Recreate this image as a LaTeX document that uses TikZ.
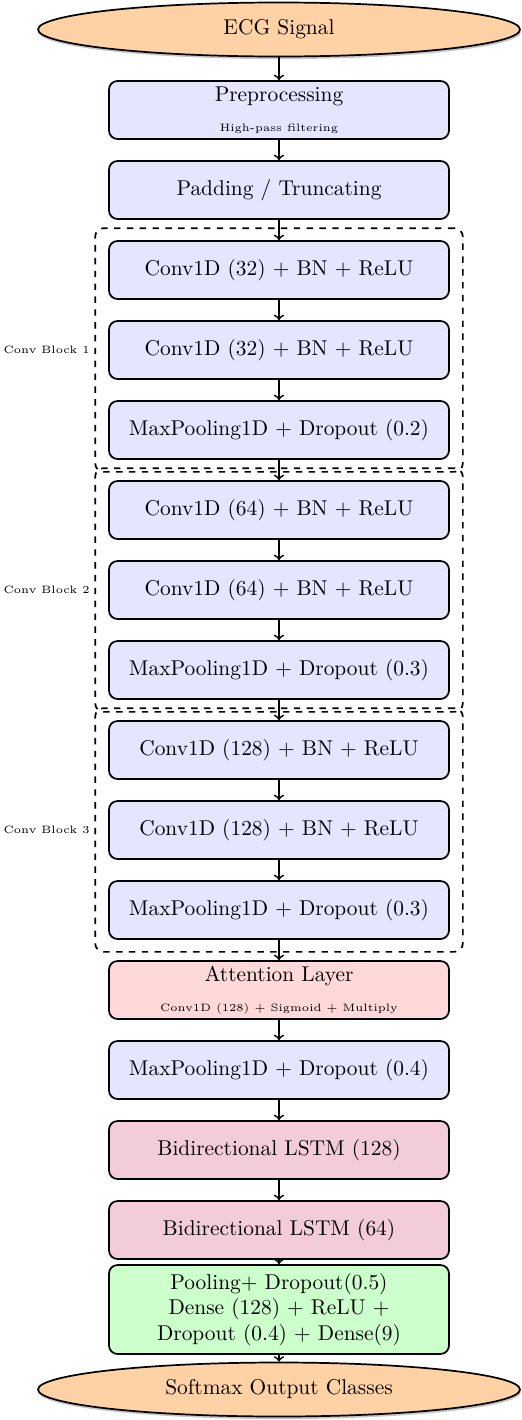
\documentclass[tikz,border=0pt]{standalone}
\usetikzlibrary{shapes.geometric,shadows,fit}
\begin{document}
\begin{tikzpicture}[x=0.4673pt,y=-0.4673pt,
  blk/.style={draw=black, thick, rounded corners=4pt, fill=blue!10,
    minimum width=340*0.4673pt, minimum height=58*0.4673pt, align=center, inner sep=2pt},
  att/.style={blk, fill=red!15},
  lstm/.style={blk, fill=purple!20},
  dense/.style={blk, fill=green!20, minimum height=89*0.4673pt},
  oval/.style={ellipse, draw=black, thick, fill=orange!35,
    minimum width=482*0.4673pt, minimum height=54*0.4673pt,
    drop shadow={opacity=0.45, shadow xshift=0.4pt, shadow yshift=-1.2pt}},
  arr/.style={->, thick},
  grp/.style={draw=black, dashed, thick, rounded corners=4pt,
    inner xsep=13*0.4673pt, inner ysep=12*0.4673pt},
  glabel/.style={font=\tiny, anchor=east, inner sep=2pt}]
\path[use as bounding box] (0,0) rectangle (522,1420);

\node[oval] (ecg) at (279,29.5) {ECG Signal};
\node[blk] (pre) at (279,110) {Preprocessing\\[2pt]{\tiny High-pass filtering}};
\node[blk] (pad) at (279,190) {Padding / Truncating};
\node[blk] (c1a) at (279,270) {Conv1D (32) + BN + ReLU};
\node[blk] (c1b) at (279,350) {Conv1D (32) + BN + ReLU};
\node[blk] (c1p) at (279,430) {MaxPooling1D + Dropout (0.2)};
\node[blk] (c2a) at (279,510) {Conv1D (64) + BN + ReLU};
\node[blk] (c2b) at (279,590) {Conv1D (64) + BN + ReLU};
\node[blk] (c2p) at (279,670) {MaxPooling1D + Dropout (0.3)};
\node[blk] (c3a) at (279,750) {Conv1D (128) + BN + ReLU};
\node[blk] (c3b) at (279,830) {Conv1D (128) + BN + ReLU};
\node[blk] (c3p) at (279,910) {MaxPooling1D + Dropout (0.3)};
\node[att] (att) at (279,990) {Attention Layer\\[2pt]{\tiny Conv1D (128) + Sigmoid + Multiply}};
\node[blk] (mp4) at (279,1070) {MaxPooling1D + Dropout (0.4)};
\node[lstm] (l1) at (279,1150) {Bidirectional LSTM (128)};
\node[lstm] (l2) at (279,1230) {Bidirectional LSTM (64)};
\node[dense] (dn) at (279,1309.5) {Pooling+ Dropout(0.5)\\Dense (128) + ReLU +\\Dropout (0.4) + Dense(9)};
\node[oval] (out) at (279,1389.5) {Softmax Output Classes};

\node[grp, fit=(c1a)(c1p)] (b1) {};
\node[grp, fit=(c2a)(c2p)] (b2) {};
\node[grp, fit=(c3a)(c3p)] (b3) {};
\node[glabel] (lb1) at (b1.west) {Conv Block 1};
\node[glabel] (lb2) at (b2.west) {Conv Block 2};
\node[glabel] (lb3) at (b3.west) {Conv Block 3};

\draw[arr] (ecg) -- (pre);
\draw[arr] (pre) -- (pad);
\draw[arr] (pad) -- (c1a);
\draw[arr] (c1a) -- (c1b);
\draw[arr] (c1b) -- (c1p);
\draw[arr] (c1p) -- (c2a);
\draw[arr] (c2a) -- (c2b);
\draw[arr] (c2b) -- (c2p);
\draw[arr] (c2p) -- (c3a);
\draw[arr] (c3a) -- (c3b);
\draw[arr] (c3b) -- (c3p);
\draw[arr] (c3p) -- (att);
\draw[arr] (att) -- (mp4);
\draw[arr] (mp4) -- (l1);
\draw[arr] (l1) -- (l2);
\draw[arr] (l2) -- (dn);
\draw[arr] (dn) -- (out);
\end{tikzpicture}
\end{document}
